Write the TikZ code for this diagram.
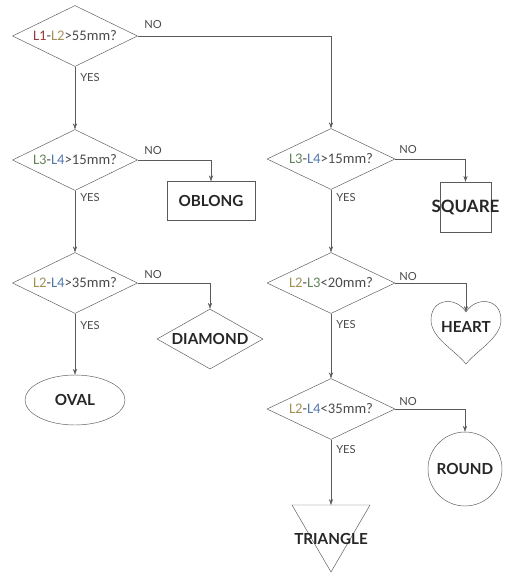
\documentclass[tikz,border=0pt]{standalone}
\usepackage{fontspec}
\setmainfont{Carlito}
\newfontfamily\shapefont{Lato}
\usepackage{xcolor}
\usetikzlibrary{shapes.geometric, arrows.meta, positioning}

\definecolor{lineg}{HTML}{5A5A5A}
\definecolor{txtg}{HTML}{4A4A4A}
\definecolor{colLa}{HTML}{9A3A3A}
\definecolor{colLb}{HTML}{A39058}
\definecolor{colLc}{HTML}{62845A}
\definecolor{colLd}{HTML}{4F78AE}
\newcommand{\La}{\textcolor{colLa}{L1}}
\newcommand{\Lb}{\textcolor{colLb}{L2}}
\newcommand{\Lc}{\textcolor{colLc}{L3}}
\newcommand{\Ld}{\textcolor{colLd}{L4}}

\begin{document}
\begin{tikzpicture}[x=0.03cm, y=-0.03cm,
  test/.style={diamond, draw=lineg, aspect=2.05, inner sep=0pt,
    minimum width=3.75cm, minimum height=1.83cm,
    font=\fontsize{12.5}{14}\selectfont, text=txtg},
  endbox/.style={draw=lineg, text=black!85,
    font=\shapefont\bfseries\fontsize{13}{15}\selectfont},
  endtext/.style={text=black!85, font=\shapefont\bfseries\fontsize{13}{15}\selectfont},
  lbl/.style={text=txtg, font=\shapefont\fontsize{9.5}{11}\selectfont},
  arr/.style={draw=lineg, -{Stealth[length=5pt, width=3.5pt]}}]
  \useasboundingbox (0,0) rectangle (505,574);

  % Left column
  \node[test] (d1) at (75,36) {\La-\Lb>55mm?};
  \node[test] (d2) at (75,160) {\Lc-\Ld>15mm?};
  \node[test] (d3) at (75,283) {\Lb-\Ld>35mm?};
  \node[endbox, ellipse, minimum width=3cm, minimum height=1.5cm] (oval) at (75,400) {OVAL};
  \node[endbox, minimum width=2.64cm, minimum height=1.17cm] (oblong) at (211,201) {OBLONG};
  \node[endbox, diamond, aspect=1.77, inner sep=0pt, minimum width=3.18cm,
    minimum height=1.8cm] (diam) at (210,339) {DIAMOND};

  % Right column
  \node[test, minimum width=3.84cm] (r1) at (331,159) {\Lc-\Ld>15mm?};
  \node[test, minimum width=3.84cm] (r2) at (331,283) {\Lb-\Lc<20mm?};
  \node[test, minimum width=3.84cm] (r3) at (331,409) {\Lb-\Ld<35mm?};
  \node[endbox, inner sep=0pt, minimum width=1.53cm, minimum height=1.5cm] (square)
    at (465.5,207) {\makebox[0pt]{\fontsize{14.5}{16}\selectfont SQUARE}};
  \node[endbox, circle, inner sep=0pt, minimum size=2.22cm] (round) at (465,469) {ROUND};

  % Heart
  \node[endtext] (heart) at (466,327) {HEART};
  \coordinate (heart top) at (466,312);
  \draw[lineg] (heart top) .. controls (456,296) and (431,298) .. (431,320)
    .. controls (431,338) and (455,350) .. (466,364)
    .. controls (477,350) and (501,338) .. (501,320)
    .. controls (501,298) and (476,296) .. (heart top);

  % Triangle
  \coordinate (tri top) at (331,505);
  \draw[lineg] (292,505) -- (370,505) -- (331,572) -- cycle;
  \node[endtext] (tri) at (331,539) {TRIANGLE};

  % Arrows
  \draw[arr] (d1) -- (d2);
  \draw[arr] (d2) -- (d3);
  \draw[arr] (d3) -- (oval);
  \draw[arr] (d1.east) -| (r1.north);
  \draw[arr] (d2.east) -| (oblong.north);
  \draw[arr] (d3.east) -| (diam.north);
  \draw[arr] (r1) -- (r2);
  \draw[arr] (r2) -- (r3);
  \draw[arr] (r3.south) -- (tri top);
  \draw[arr] (r1.east) -| (square.north);
  \draw[arr] (r2.east) -| (heart top);
  \draw[arr] (r3.east) -| (round.north);

  % YES / NO labels
  \foreach \n/\x/\y in {1/90/78, 2/90/198, 3/90/326, 4/346/198, 5/346/325, 6/346/450}
    \node[lbl] (yes-\n) at (\x,\y) {YES};
  \foreach \n/\x/\y in {1/153/25, 2/153/151, 3/153/275, 4/408/150, 5/408/277, 6/408/402}
    \node[lbl] (no-\n) at (\x,\y) {NO};

\end{tikzpicture}
\end{document}
